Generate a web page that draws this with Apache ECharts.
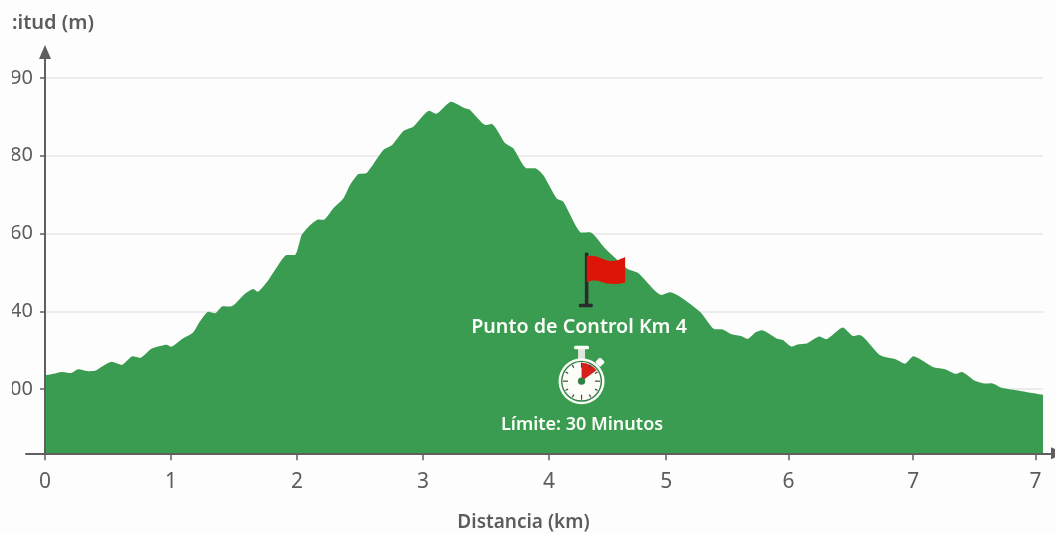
<!DOCTYPE html>
<html><head><meta charset="utf-8">
<script src="https://cdn.jsdelivr.net/npm/echarts@6/dist/echarts.min.js"></script>
<style>html,body{margin:0;padding:0;background:#fdfdfd;overflow:hidden}
#clip{position:absolute;left:12px;top:0;width:1043px;height:533px;overflow:hidden}
#c{position:absolute;left:0;top:0;width:1043px;height:533px}</style></head>
<body><div id="clip"><div id="c"></div></div>
<script>
const distanceKm=[0,.066,.133,.204,.264,.344,.397,.463,.53,.609,.696,.754,.847,.966,1,1.085,1.177,1.23,1.296,1.349,1.41,1.474,1.587,1.653,1.685,1.772,1.825,1.918,1.984,2.037,2.09,2.169,2.209,2.288,2.367,2.421,2.487,2.553,2.685,2.752,2.844,2.923,3.05,3.103,3.222,3.333,3.373,3.5,3.545,3.651,3.717,3.823,3.889,3.955,4.061,4.113,4.26,4.325,4.444,4.617,4.709,4.894,4.96,5.198,5.317,5.371,5.45,5.529,5.574,5.635,5.688,5.807,5.855,5.926,5.979,6.05,6.145,6.198,6.331,6.415,6.463,6.627,6.746,6.825,6.891,7.05,7.143,7.228,7.275,7.381,7.46,7.513,7.593,7.738,7.923];
const altitude=[123.5,123.9,124.4,124.1,125.1,124.6,124.7,126,127,126.2,128.4,128,130.4,131.4,130.9,132.8,134.6,137.4,139.9,139.5,141.3,141.2,144.5,145.7,145,148,150.6,154.5,154.5,159.6,161.7,163.6,163.5,166.5,169,172.5,175.3,175.6,181.5,182.7,186.4,187.5,191.6,190.8,193.9,192.2,191.8,187.9,188.2,183.3,181.9,176.8,176.8,175,169,168.2,160.2,160.3,156.2,151,149.8,144.2,144.9,139.9,135.4,135.4,134.1,133.6,132.9,134.5,135.1,133,132.6,130.9,131.5,131.8,133.5,132.8,135.8,133.6,133.9,128.7,127.7,126.5,128.4,125.6,125.1,123.9,124.4,122.1,121.4,121.5,120.3,119.5,118.5];
const xTickValues=[0,1,2,3,4,4.93,5.9,6.89,7.86];
const xTickLabels=['0','1','2','3','4','5','6','7','7'];
const yTickValues=[120,140,160,180,200];
const yTickLabels=['00','40','60','80','90'];
const yTitle=':itud (m)';
const xTitle='Distancia (km)';
const checkpointKm=[4.3];
const checkpointAlt=[154.3];
const checkpointTitle='Punto de Control Km 4';
const limitTitle='Límite: 30 Minutos';

const FONT='"Noto Sans"';
const GREEN='#3a9c50', AXIS='#5f5f5f', TXT='#5c5c5c';
const rows=distanceKm.map((d,i)=>[d,altitude[i]]);
const xFmt=v=>{const i=xTickValues.findIndex(t=>Math.abs(t-v)<1e-6);return i<0?'':xTickLabels[i]};
const yFmt=v=>{const i=yTickValues.findIndex(t=>Math.abs(t-v)<1e-6);return i<0?'':yTickLabels[i]};

function stopwatch(cx,cy){
  const W='#fdfdf8', G='#2f7f43', kids=[];
  kids.push({type:'rect',shape:{x:cx-3.5,y:cy-33,width:7,height:12},style:{fill:'#dfe6dc'}});
  kids.push({type:'rect',shape:{x:cx-7.5,y:cy-35.5,width:15,height:3.6,r:1.5},style:{fill:W}});
  kids.push({type:'rect',shape:{x:-3.5,y:-3.5,width:7,height:7,r:1.5},x:cx+18.5,y:cy-19,rotation:-Math.PI/4,style:{fill:W}});
  kids.push({type:'circle',shape:{cx,cy,r:23},style:{fill:W}});
  kids.push({type:'circle',shape:{cx,cy,r:19.8},style:{fill:'none',stroke:G,lineWidth:1.4}});
  kids.push({type:'sector',shape:{cx,cy,r0:0,r:18.5,startAngle:-Math.PI/2,endAngle:-Math.PI/2+Math.PI*0.3},style:{fill:'#d8201a'}});
  for(let i=0;i<12;i++){
    const a=i*Math.PI/6, r0=i%3===0?13.5:15.5, r1=18.5;
    kids.push({type:'line',shape:{x1:cx+Math.sin(a)*r0,y1:cy-Math.cos(a)*r0,x2:cx+Math.sin(a)*r1,y2:cy-Math.cos(a)*r1},style:{stroke:'#444',lineWidth:1.2}});
  }
  kids.push({type:'circle',shape:{cx,cy,r:3.6},style:{fill:G}});
  return kids;
}

const GB={outerBoundsMode:'none',containLabel:false};
const option={
  backgroundColor:'#fdfdfd',animation:false,
  grid:[
    {left:33,right:12,top:45,bottom:79.7,...GB},
    {left:14,right:-3,top:45,bottom:79.7,...GB},
    {left:33,right:12,top:52,bottom:79.7,...GB}
  ],
  xAxis:[
    {type:'value',gridIndex:0,min:0,max:7.92,
     axisLine:{show:false},
     axisTick:{show:true,length:7,customValues:xTickValues,lineStyle:{color:AXIS,width:1.5}},
     axisLabel:{customValues:xTickValues,formatter:xFmt,margin:18,color:TXT,fontFamily:FONT,fontSize:21,hideOverlap:false,showMinLabel:true,showMaxLabel:true},
     splitLine:{show:false},
     name:xTitle,nameLocation:'middle',nameGap:60,nameTextStyle:{color:TXT,fontFamily:FONT,fontSize:19,fontWeight:600,padding:[0,41,0,0]}},
    {type:'value',gridIndex:1,min:0,max:1,z:6,axisLine:{show:true,symbol:['none','triangle'],symbolSize:[12,14],lineStyle:{color:AXIS,width:2}},axisTick:{show:false},axisLabel:{show:false},splitLine:{show:false}},
    {type:'value',gridIndex:2,min:0,max:1,show:false}
  ],
  yAxis:[
    {type:'value',gridIndex:0,min:103.46,max:208.5,
     axisLine:{show:false},
     axisTick:{show:true,length:5,customValues:yTickValues,lineStyle:{color:AXIS,width:1.5}},
     axisLabel:{customValues:yTickValues,formatter:yFmt,margin:12,color:TXT,fontFamily:FONT,fontSize:20,showMinLabel:true,showMaxLabel:true},
     splitLine:{show:true,lineStyle:{color:'#ececec',width:2}}},
    {type:'value',gridIndex:1,min:0,max:1,show:false},
    {type:'value',gridIndex:2,min:0,max:1,z:6,axisLine:{show:true,symbol:['none','triangle'],symbolSize:[12,14],lineStyle:{color:AXIS,width:2}},axisTick:{show:false},axisLabel:{show:false},splitLine:{show:false}}
  ],
  graphic:[{type:'text',left:0,top:13,style:{text:yTitle,fill:TXT,font:'600 20px '+FONT}}],
  series:[
    {type:'line',xAxisIndex:0,yAxisIndex:0,data:rows,showSymbol:false,smooth:0.2,lineStyle:{width:0},areaStyle:{color:GREEN,opacity:1},z:2},
    {type:'custom',xAxisIndex:0,yAxisIndex:0,data:[[checkpointKm[0],checkpointAlt[0]]],z:5,clip:false,
     renderItem(p,api){
       const [x,y]=api.coord([api.value(0),api.value(1)]);
       const kids=[];
       kids.push({type:'rect',shape:{x:x-2,y:y-3,width:3.6,height:53},style:{fill:'#2b2b2b'}});
       kids.push({type:'rect',shape:{x:x-8,y:y+48,width:14,height:3.6,r:1},style:{fill:'#2b2b2b'}});
       kids.push({type:'path',shape:{pathData:'M0 1 C9 -2 16 5 24 5.5 C30 5.5 35 3 38.3 1.3 L38.3 27 C31 29 25 28.5 20 28 C15 27 8 22.5 0 27 Z',x:x,y:y-1,width:38.3,height:30.5},style:{fill:'#dd1508'}});
       kids.push({type:'text',x:x-7.8,y:y+71.5,style:{text:checkpointTitle,fill:'#fbfdf9',font:'600 19.7px '+FONT,align:'center',verticalAlign:'middle'}});
       kids.push(...stopwatch(x-5.3,y+125.5));
       kids.push({type:'text',x:x-4.8,y:y+169.5,style:{text:limitTitle,fill:'#fbfdf9',font:'600 18px '+FONT,align:'center',verticalAlign:'middle'}});
       return {type:'group',children:kids};
     }}
  ]
};
echarts.init(document.getElementById('c'),null,{renderer:'canvas'}).setOption(option);
</script></body></html>
